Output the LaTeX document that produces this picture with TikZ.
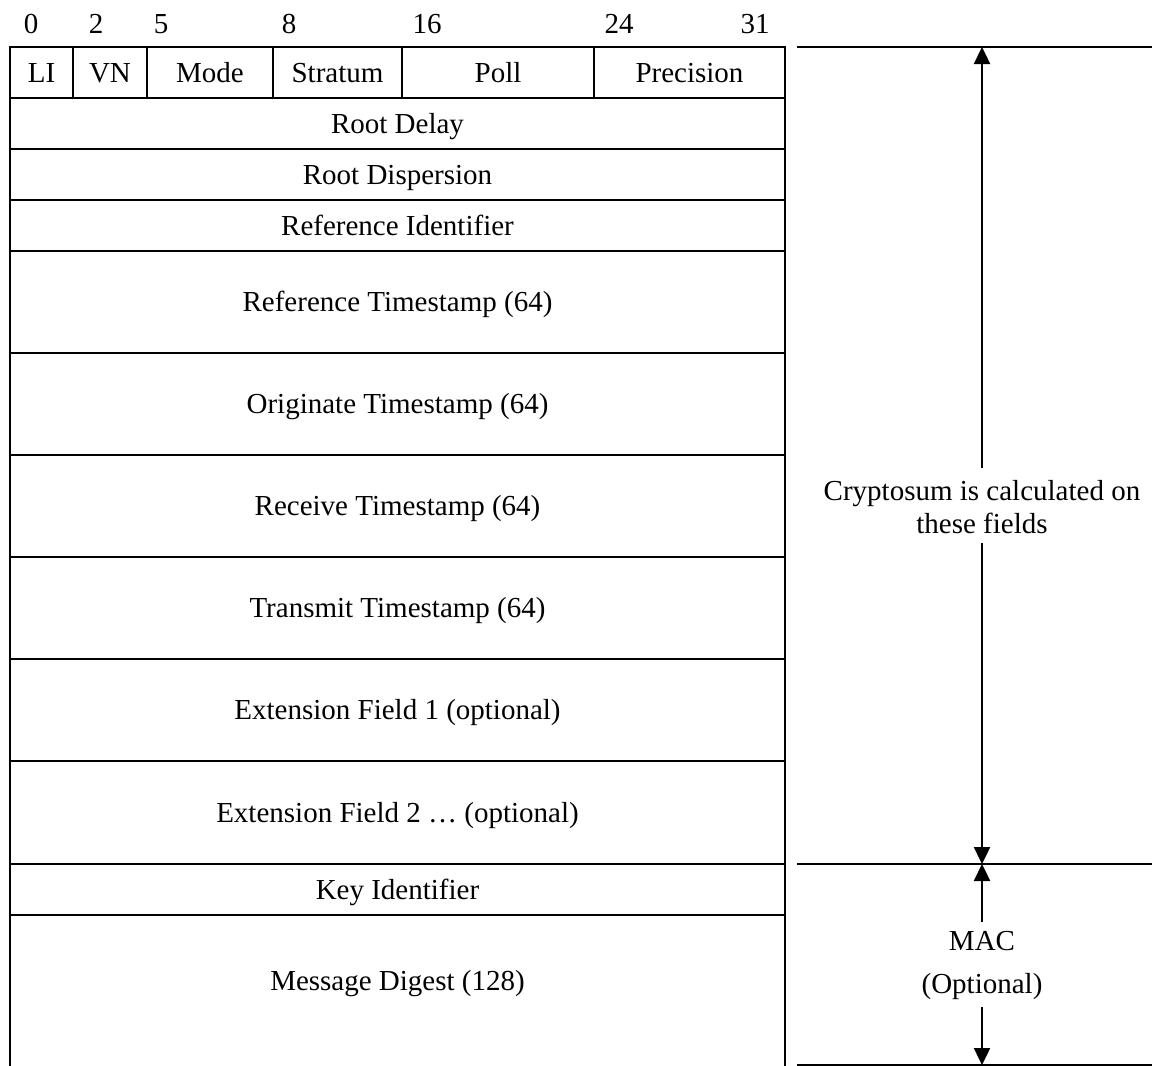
\documentclass[tikz,border=0pt]{standalone}
\usepackage{fontspec}
\setmainfont{Liberation Serif}
\usetikzlibrary{arrows.meta}
\tikzset{
  cell/.style={draw, line width=2.4pt, inner sep=0pt, outer sep=0pt, anchor=north west, align=center, text height=24pt, text depth=5pt},
  lbl/.style={inner sep=0pt, align=center},
  rule/.style={line width=2.4pt},
  dimarrow/.style={line width=2.4pt, -{Triangle[length=17pt,width=16pt]}},
}
\begin{document}
\begin{tikzpicture}[x=1pt,y=-1pt, font=\fontsize{29}{33}\selectfont]
\useasboundingbox (0,0) rectangle (1152,1066);
% bit numbers
\foreach \n/\x in {0/31,2/96,5/161,8/289,16/427,24/619,31/755}
  \node[lbl] (b\n) at (\x,24) {\n};
% header row
\node[cell, minimum width=63pt, minimum height=51pt] (li) at (10,47) {LI};
\node[cell, minimum width=74pt, minimum height=51pt] (vn) at (73,47) {VN};
\node[cell, minimum width=126pt, minimum height=51pt] (mode) at (147,47) {Mode};
\node[cell, minimum width=129pt, minimum height=51pt] (stratum) at (273,47) {Stratum};
\node[cell, minimum width=192pt, minimum height=51pt] (poll) at (402,47) {Poll};
\node[cell, minimum width=191pt, minimum height=51pt] (prec) at (594,47) {Precision};
% full-width rows
\node[cell, minimum width=775pt, minimum height=51pt] (rdelay) at (10,98) {Root Delay};
\node[cell, minimum width=775pt, minimum height=51pt] (rdisp) at (10,149) {Root Dispersion};
\node[cell, minimum width=775pt, minimum height=51pt] (refid) at (10,200) {Reference Identifier};
\node[cell, minimum width=775pt, minimum height=102pt] (refts) at (10,251) {Reference Timestamp (64)};
\node[cell, minimum width=775pt, minimum height=102pt] (orgts) at (10,353) {Originate Timestamp (64)};
\node[cell, minimum width=775pt, minimum height=102pt] (rcvts) at (10,455) {Receive Timestamp (64)};
\node[cell, minimum width=775pt, minimum height=102pt] (xmtts) at (10,557) {Transmit Timestamp (64)};
\node[cell, minimum width=775pt, minimum height=102pt] (ext1) at (10,659) {Extension Field 1 (optional)};
\node[cell, minimum width=775pt, minimum height=103pt] (ext2) at (10,761) {Extension Field 2 … (optional)};
\node[cell, minimum width=775pt, minimum height=51pt] (keyid) at (10,864) {Key Identifier};
\draw[rule] (10,915) -- (10,1072) -- (785,1072) -- (785,915);
\node[lbl, text height=24pt, text depth=5pt] (digest) at (397.5,981) {Message Digest (128)};
% right side
\coordinate (t0) at (797,47);
\coordinate (t1) at (1152,47);
\coordinate (m0) at (797,864);
\coordinate (m1) at (1152,864);
\coordinate (e0) at (797,1065);
\coordinate (e1) at (1152,1065);
\draw[rule] (t0) -- (t1);
\draw[rule] (m0) -- (m1);
\draw[rule] (e0) -- (e1);
\coordinate (atop) at (982,47);
\coordinate (amid) at (982,864);
\coordinate (abot) at (982,1065);
\node[lbl] (crypto) at (982,507) {Cryptosum is calculated on\\these fields};
\coordinate (c1) at (982,468);
\coordinate (c2) at (982,543);
\draw[dimarrow] (c1) -- (atop);
\draw[dimarrow] (c2) -- (amid);
\node[lbl] (mac) at (982,965) {MAC\\[10pt](Optional)};
\coordinate (d1) at (982,922);
\coordinate (d2) at (982,1007);
\draw[dimarrow] (d1) -- (amid);
\draw[dimarrow] (d2) -- (abot);
\end{tikzpicture}
\end{document}
